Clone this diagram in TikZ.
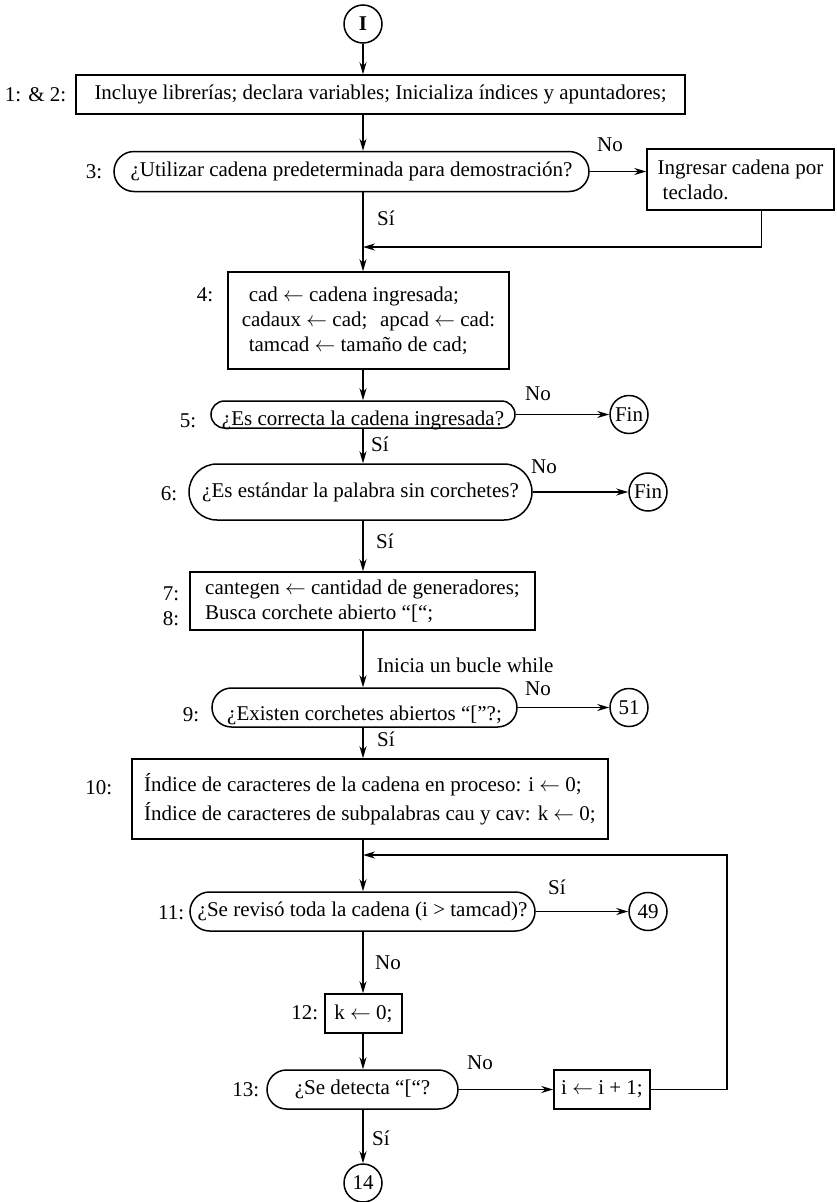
\documentclass[tikz,border=0pt]{standalone}
\usepackage{fontspec}
\setmainfont{Liberation Serif}
\usetikzlibrary{arrows.meta}

\begin{document}
\begin{tikzpicture}[x=1pt,y=-1pt,
  font=\fontsize{21}{25}\selectfont,
  line width=1.5pt,
  >={Stealth[length=12pt,width=7pt]},
  caja/.style={draw,rectangle,align=left},
  pregunta/.style={draw,rectangle,rounded corners=#1},
  conector/.style={draw,circle,minimum size=38pt,inner sep=0pt},
  etiq/.style={anchor=east,inner sep=0pt},
  rama/.style={inner sep=0pt}]

\useasboundingbox (0,0) rectangle (836,1202);

\node[conector] (inicio) at (363,24) {\textbf{I}};

\node[caja,minimum width=609pt,minimum height=39pt] (incluye) at (380.5,94.5) {Incluye librerías; declara variables; Inicializa índices y apuntadores;};

\node[pregunta=20pt,minimum width=475pt,minimum height=40pt] (demo) at (351.5,171.5) {¿Utilizar cadena predeterminada para demostración?};

\node[caja,minimum width=187pt,minimum height=61pt] (teclado) at (740.5,179.5) {Ingresar cadena por\\\hspace*{5pt}teclado.};

\coordinate (junta) at (363,247);

\node[caja,minimum width=281pt,minimum height=97pt] (asigna) at (368.5,320.5) {\hspace*{7pt}cad $\leftarrow$ cadena ingresada;\\cadaux $\leftarrow$ cad;\hspace{0.6em}apcad $\leftarrow$ cad:\\\hspace*{7pt}tamcad $\leftarrow$ tamaño de cad;};

\node[pregunta=13.5pt,minimum width=304pt,inner ysep=0pt,text height=24pt,text depth=3pt] (correcta) at (363,414.5) {¿Es correcta la cadena ingresada?};

\node[conector] (fin1) at (629,414.5) {Fin};

\node[pregunta=28pt,minimum width=343pt,minimum height=56pt] (estandar) at (360.5,492) {¿Es estándar la palabra sin corchetes?};

\node[conector] (fin2) at (648,492) {Fin};

\node[caja,minimum width=345pt,minimum height=58pt] (busca) at (362.5,601) {cantegen $\leftarrow$ cantidad de generadores;\\Busca corchete abierto “[“;};

\node[pregunta=19.5pt,minimum width=305pt,inner ysep=0pt,text height=32pt,text depth=7pt] (existe) at (364.5,707.5) {¿Existen corchetes abiertos “[”?;};

\node[conector] (c51) at (629,707.5) {51};

\node[caja,minimum width=476pt,minimum height=80pt] (indices) at (370,799) {Índice de caracteres de la cadena en proceso: i $\leftarrow$ 0;\\[4pt]Índice de caracteres de subpalabras cau y cav: k $\leftarrow$ 0;};

\coordinate (vuelta) at (363,855);

\node[pregunta=19.5pt,minimum width=345pt,minimum height=39pt] (revisa) at (362.5,911.5) {¿Se revisó toda la cadena (i > tamcad)?};

\node[conector] (c49) at (648,911.5) {49};

\node[caja,minimum width=77pt,minimum height=39pt] (kcero) at (363.5,1013.5) {k $\leftarrow$ 0;};

\node[pregunta=19.5pt,minimum width=191pt,minimum height=39pt] (detecta) at (362.5,1089.5) {¿Se detecta “[“?};

\node[caja,minimum width=96pt,minimum height=39pt,inner xsep=4pt] (incr) at (602,1089.5) {i $\leftarrow$ i + 1;};

\node[conector] (c14) at (363,1183) {14};

\node[etiq] (n12) at (67,94.5) {1: \& 2:};
\node[etiq] (n3) at (103,172) {3:};
\node[etiq] (n4) at (214,295) {4:};
\node[etiq] (n5) at (197,421) {5:};
\node[etiq] (n6) at (178,494) {6:};
\node[etiq] (n7) at (180,594) {7:};
\node[etiq] (n8) at (180,619) {8:};
\node[etiq] (n9) at (200,715) {9:};
\node[etiq] (n10) at (113,788) {10:};
\node[etiq] (n11) at (185,913) {11:};
\node[etiq] (n12b) at (319,1013) {12:};
\node[etiq] (n13) at (260,1090) {13:};

\node[rama] (no3) at (610,145) {No};
\node[rama] (si3) at (386,218) {Sí};
\node[rama] (no5) at (538,394) {No};
\node[rama] (si5) at (380,444) {Sí};
\node[rama] (no6) at (544,467) {No};
\node[rama] (si6) at (385,541) {Sí};
\node[rama,anchor=west] (bucle) at (376,665) {Inicia un bucle while};
\node[rama] (no9) at (538,689) {No};
\node[rama] (si9) at (386,739) {Sí};
\node[rama] (si11) at (557,887) {Sí};
\node[rama] (no11) at (388,963) {No};
\node[rama] (no13) at (480,1063) {No};
\node[rama] (si13) at (381,1138) {Sí};

\draw[->] (inicio)--(incluye.north -| inicio);
\draw[->] (incluye.south -| inicio)--(demo.north -| inicio);
\draw[->] (demo.east)--(demo.east -| teclado.west);
\draw[->] (demo.south -| inicio)--(asigna.north -| inicio);
\draw[->] ([xshift=21pt]teclado.south) |- (junta);
\draw[->] (asigna.south -| inicio)--(correcta.north -| inicio);
\draw[->] (correcta.east)--(fin1);
\draw[->] (correcta.south -| inicio)--(estandar.north -| inicio);
\draw[->] (estandar.east)--(fin2);
\draw[->] (estandar.south -| inicio)--(busca.north -| inicio);
\draw[->] (busca.south -| inicio)--(existe.north -| inicio);
\draw[->] (existe.east)--(c51);
\draw[->] (existe.south -| inicio)--(indices.north -| inicio);
\draw[->] (indices.south -| inicio)--(revisa.north -| inicio);
\draw[->] (revisa.east)--(c49);
\draw[->] (revisa.south -| inicio)--(kcero.north -| inicio);
\draw[->] (kcero.south -| inicio)--(detecta.north -| inicio);
\draw[->] (detecta.east)--(incr.west);
\draw[->] (incr.east) -- ++(76,0) |- (vuelta);
\draw[->] (detecta.south -| inicio)--(c14);

\end{tikzpicture}
\end{document}
